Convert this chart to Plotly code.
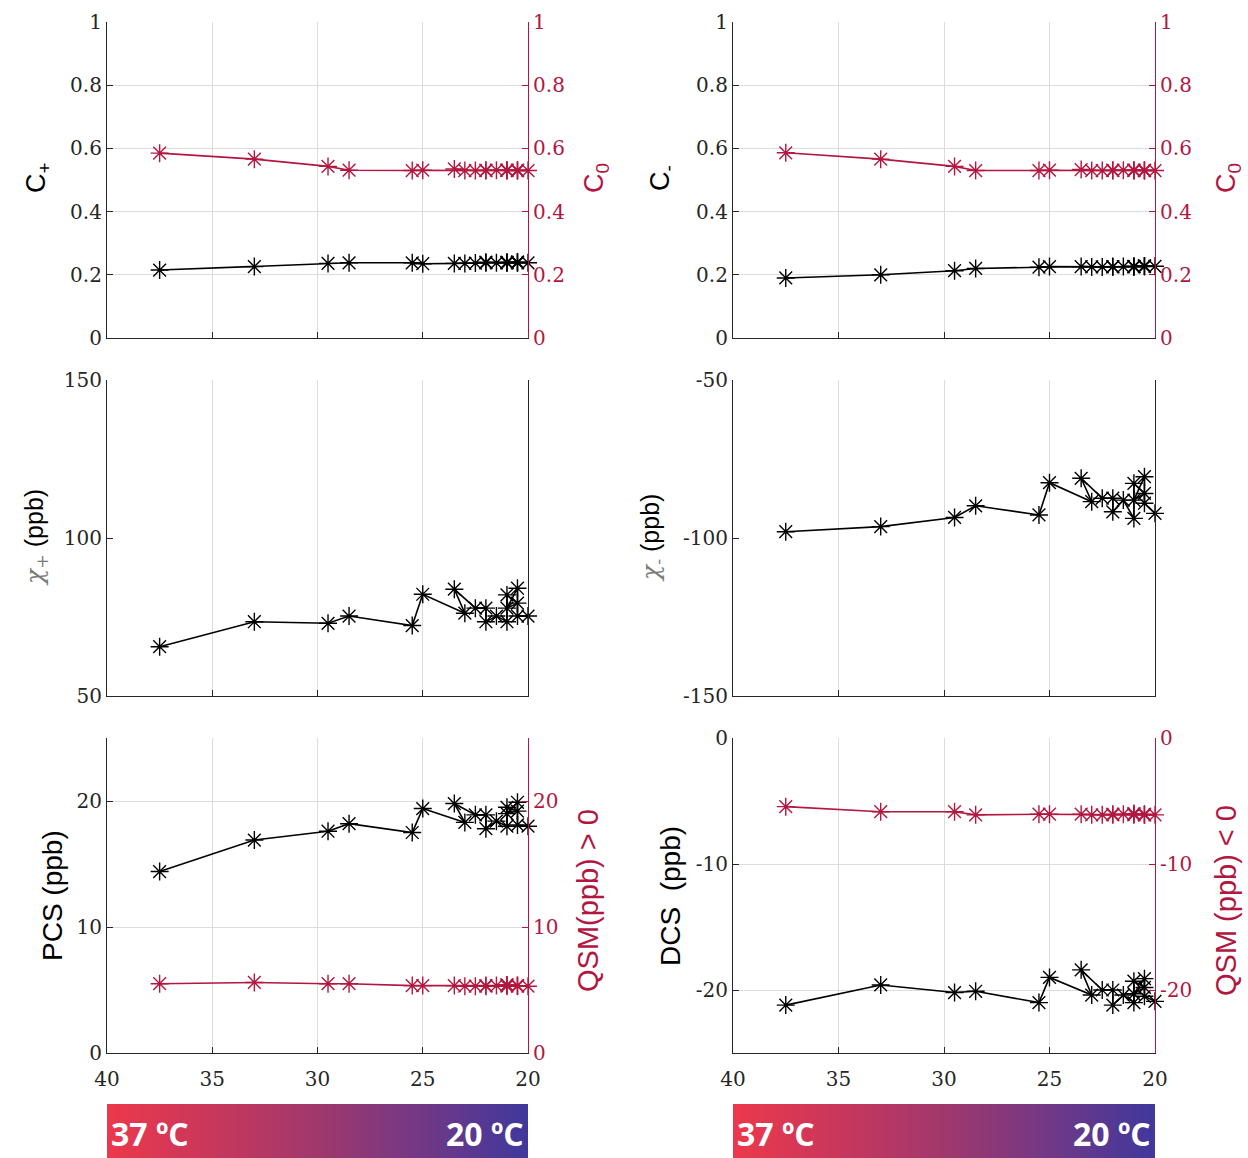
import plotly.graph_objects as go

# ---------------- data ----------------
temps = [37.5, 33.0, 29.5, 28.5, 25.5, 25.0, 23.0, 23.5, 22.5, 22.0, 22.0,
         21.5, 21.0, 21.0, 20.5, 21.0, 20.5, 20.5, 20.0]

c_plus = [0.215, 0.226, 0.236, 0.238, 0.238, 0.235, 0.236, 0.236, 0.237, 0.238,
          0.240, 0.238, 0.240, 0.238, 0.240, 0.238, 0.240, 0.238, 0.238]
c0_left = [0.585, 0.566, 0.543, 0.531, 0.530, 0.531, 0.530, 0.535, 0.530, 0.531,
           0.530, 0.531, 0.530, 0.531, 0.530, 0.531, 0.530, 0.531, 0.530]

c_minus = [0.190, 0.200, 0.213, 0.220, 0.224, 0.226, 0.225, 0.226, 0.225, 0.226,
           0.225, 0.226, 0.227, 0.225, 0.228, 0.226, 0.228, 0.226, 0.227]
c0_right = [0.586, 0.566, 0.543, 0.530, 0.530, 0.531, 0.530, 0.533, 0.530, 0.531,
            0.530, 0.531, 0.530, 0.531, 0.530, 0.531, 0.530, 0.531, 0.530]

chi_plus = [65.6, 73.5, 73.0, 75.3, 72.3, 82.2, 76.2, 83.8, 77.8, 77.8, 73.5,
            75.3, 73.5, 82.0, 79.4, 77.8, 84.1, 75.3, 75.3]
chi_minus = [-98.0, -96.4, -93.5, -89.8, -92.7, -82.5, -88.5, -81.1, -87.4, -87.4,
             -91.7, -88.0, -93.8, -82.7, -85.9, -88.0, -80.6, -89.0, -92.2]

pcs = [14.4, 16.9, 17.6, 18.2, 17.5, 19.4, 18.3, 19.8, 18.9, 18.9, 17.8,
       18.4, 18.0, 19.5, 19.2, 19.0, 19.9, 18.1, 18.0]
qsm_pos = [5.5, 5.6, 5.5, 5.5, 5.35, 5.35, 5.3, 5.35, 5.3, 5.35, 5.3,
           5.35, 5.4, 5.3, 5.35, 5.4, 5.3, 5.35, 5.3]

dcs = [-21.2, -19.6, -20.2, -20.1, -21.0, -19.0, -20.4, -18.4, -20.0, -20.0, -21.2,
       -20.4, -21.0, -19.3, -19.8, -20.3, -19.1, -20.5, -20.9]
qsm_neg = [-5.45, -5.85, -5.85, -6.1, -6.05, -6.05, -6.1, -6.05, -6.1, -6.05, -6.1,
           -6.05, -6.1, -6.0, -6.1, -6.05, -6.1, -6.05, -6.1]

x_ticks = [40, 35, 30, 25, 20]
c_ticks = [0, 0.2, 0.4, 0.6, 0.8, 1]
c_tick_labels = ["0", "0.2", "0.4", "0.6", "0.8", "1"]
chi_pos_ticks = [50, 100, 150]
chi_neg_ticks = [-150, -100, -50]
chi_neg_labels = ["-150", "-100", "-50"]
pos_ticks = [0, 10, 20]
neg_ticks = [-20, -10, 0]
neg_labels = ["-20", "-10", "0"]
bar_labels = ["37 ºC", "20 ºC"]

# ---------------- style ----------------
W, H = 1248, 1158
RED = "#b3163f"
BLACK = "#000000"
AX = "#262626"
GRID = "#dcdcdc"
SERIF = "DejaVu Serif"
TICKFONT = dict(family=SERIF, size=20, color=AX)
TITLEFONT = "Liberation Sans"

def px_x(p):
    return p / W

def px_y(p):
    return 1 - p / H

xl = [px_x(107), px_x(528)]
xr = [px_x(733), px_x(1155)]
yt = [px_y(338), px_y(22)]
ym = [px_y(696), px_y(380)]
yb = [px_y(1053), px_y(738)]
ycb = [0.0, px_y(1104)]

fig = go.Figure()

def add_series(x, y, xa, ya, color):
    fig.add_trace(go.Scatter(
        x=x, y=y, xaxis=xa, yaxis=ya, mode="lines+markers",
        line=dict(color=color, width=1.6),
        marker=dict(symbol="asterisk-open", size=15, color=color,
                    line=dict(color=color, width=1.4)),
        showlegend=False, hoverinfo="skip", cliponaxis=False))

add_series(temps, c_plus, "x", "y", BLACK)
add_series(temps, c0_left, "x", "y2", RED)
add_series(temps, c_minus, "x2", "y3", BLACK)
add_series(temps, c0_right, "x2", "y4", RED)
add_series(temps, chi_plus, "x3", "y5", BLACK)
add_series(temps, chi_minus, "x4", "y6", BLACK)
add_series(temps, pcs, "x5", "y7", BLACK)
add_series(temps, qsm_pos, "x5", "y8", RED)
add_series(temps, dcs, "x6", "y9", BLACK)
add_series(temps, qsm_neg, "x6", "y10", RED)

# colour bars
cscale = [[0.0, "rgb(236,56,76)"], [0.25, "rgb(200,55,92)"], [0.5, "rgb(160,56,108)"],
          [0.75, "rgb(114,56,134)"], [1.0, "rgb(64,56,156)"]]
zrow = [list(range(200))]
for xa, ya in (("x7", "y11"), ("x8", "y12")):
    fig.add_trace(go.Heatmap(z=zrow, xaxis=xa, yaxis=ya, colorscale=cscale,
                             showscale=False, hoverinfo="skip"))

def xaxis(domain, anchor, labels):
    return dict(domain=domain, anchor=anchor, range=[40, 20], tickvals=x_ticks,
                showticklabels=labels, tickfont=TICKFONT, ticks="inside", ticklen=6,
                tickcolor=AX, showline=True, linecolor=AX, linewidth=1.2,
                showgrid=True, gridcolor=GRID, gridwidth=1, zeroline=False,
                automargin=False, ticklabelstandoff=8)

def yaxis(domain, anchor, rng, vals, text=None, grid=True, mirror=False):
    d = dict(domain=domain, anchor=anchor, range=rng, tickvals=vals,
             tickfont=TICKFONT, ticks="inside", ticklen=6, tickcolor=AX,
             showline=True, linecolor=AX, linewidth=1.2, showgrid=grid,
             gridcolor=GRID, gridwidth=1, zeroline=False, mirror=mirror,
             automargin=False)
    if text is not None:
        d["ticktext"] = text
    return d

def yaxis_right(over, anchor, rng, vals, text=None):
    d = dict(overlaying=over, anchor=anchor, side="right", range=rng, tickvals=vals,
             tickfont=dict(family=SERIF, size=20, color=RED),
             ticks="inside", ticklen=6, tickcolor=RED, showline=True, linecolor=RED,
             linewidth=1.2, showgrid=False, zeroline=False, automargin=False)
    if text is not None:
        d["ticktext"] = text
    return d

layout = dict(
    width=W, height=H, margin=dict(l=0, r=0, t=0, b=0, autoexpand=False),
    paper_bgcolor="white", plot_bgcolor="rgba(0,0,0,0)", showlegend=False,
    xaxis=xaxis(xl, "y", False),
    xaxis2=xaxis(xr, "y3", False),
    xaxis3=xaxis(xl, "y5", False),
    xaxis4=xaxis(xr, "y6", False),
    xaxis5=xaxis(xl, "y7", True),
    xaxis6=xaxis(xr, "y9", True),
    yaxis=yaxis(yt, "x", [0, 1], c_ticks, c_tick_labels),
    yaxis2=yaxis_right("y", "x", [0, 1], c_ticks, c_tick_labels),
    yaxis3=yaxis(yt, "x2", [0, 1], c_ticks, c_tick_labels),
    yaxis4=yaxis_right("y3", "x2", [0, 1], c_ticks, c_tick_labels),
    yaxis5=yaxis(ym, "x3", [50, 150], chi_pos_ticks, grid=False, mirror=True),
    yaxis6=yaxis(ym, "x4", [-150, -50], chi_neg_ticks, chi_neg_labels, grid=False, mirror=True),
    yaxis7=yaxis(yb, "x5", [0, 25], pos_ticks),
    yaxis8=yaxis_right("y7", "x5", [0, 25], pos_ticks),
    yaxis9=yaxis(yb, "x6", [-25, 0], neg_ticks, neg_labels),
    yaxis10=yaxis_right("y9", "x6", [-25, 0], neg_ticks, neg_labels),
    xaxis7=dict(domain=xl, anchor="y11", visible=False, range=[-0.5, 199.5]),
    yaxis11=dict(domain=ycb, anchor="x7", visible=False, range=[-0.5, 0.5]),
    xaxis8=dict(domain=xr, anchor="y12", visible=False, range=[-0.5, 199.5]),
    yaxis12=dict(domain=ycb, anchor="x8", visible=False, range=[-0.5, 0.5]),
)
fig.update_layout(**layout)

anns = []

def title(text, x, y, color=BLACK, size=27, family=TITLEFONT):
    anns.append(dict(text=text, x=px_x(x), y=px_y(y), xref="paper", yref="paper",
                     showarrow=False, textangle=-90, xanchor="center", yanchor="middle",
                     font=dict(family=family, size=size, color=color)))

CHI = "<span style='font-family:DejaVu Serif;color:#7a7a7a'><i>χ</i><sub>%s</sub></span> (ppb)"

title("C<sub>+</sub>", 38, 178, size=27)
title("C<sub>0</sub>", 596, 178, color=RED, size=27)
title("C<sub>-</sub>", 662, 178, size=27)
title("C<sub>0</sub>", 1228, 178, color=RED, size=27)
title(CHI % "+", 36, 538, size=25)
title(CHI % "-", 652, 538, size=25)
title("PCS (ppb)", 52, 896, size=28)
title("QSM(ppb) &gt; 0", 588, 901, color=RED, size=29)
title("DCS  (ppb)", 670, 896, size=28)
title("QSM (ppb) &lt; 0", 1226, 901, color=RED, size=29)

for (x0, x1) in ((107, 528), (733, 1155)):
    anns.append(dict(text="<b>" + bar_labels[0] + "</b>", x=px_x(x0 + 2), y=px_y(1133),
                     xref="paper", yref="paper", showarrow=False, xanchor="left",
                     yanchor="middle", font=dict(family="Open Sans", size=32, color="white")))
    anns.append(dict(text="<b>" + bar_labels[1] + "</b>", x=px_x(x1 - 2), y=px_y(1133),
                     xref="paper", yref="paper", showarrow=False, xanchor="right",
                     yanchor="middle", font=dict(family="Open Sans", size=32, color="white")))

fig.update_layout(annotations=anns)
fig.write_html("out.html", config={"displayModeBar": False},
               post_script="document.body.style.margin='0px';document.body.style.overflow='hidden';")
